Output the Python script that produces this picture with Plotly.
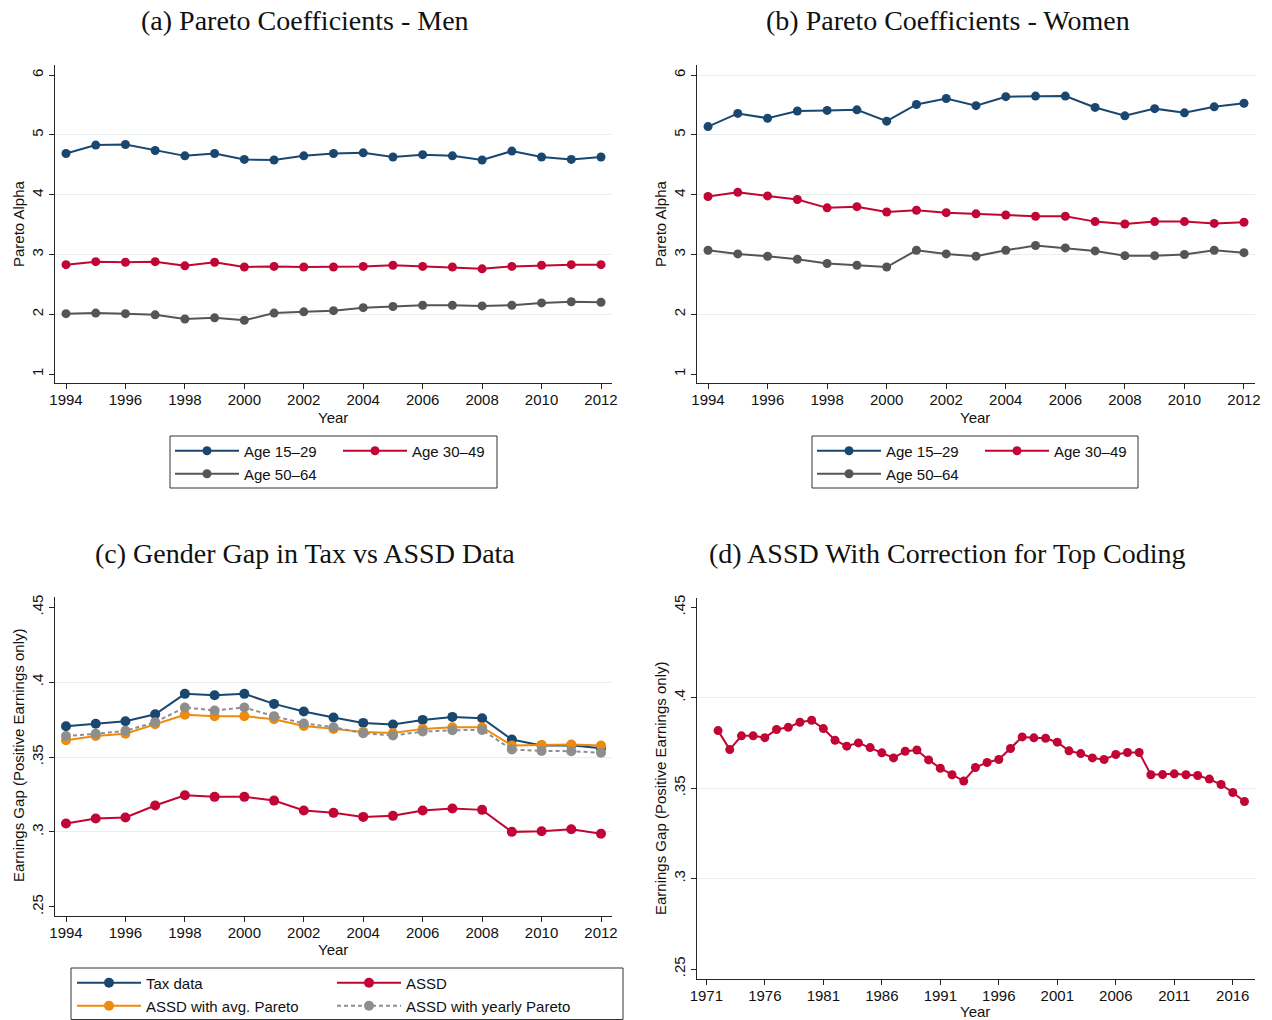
import plotly.graph_objects as go

# ---------------- data ----------------
years = list(range(1994, 2013))

men_15_29 = [4.69, 4.83, 4.84, 4.74, 4.65, 4.69, 4.59, 4.58, 4.65, 4.69,
             4.70, 4.63, 4.67, 4.65, 4.58, 4.73, 4.63, 4.59, 4.63]
men_30_49 = [2.83, 2.88, 2.87, 2.88, 2.81, 2.87, 2.79, 2.80, 2.79, 2.79,
             2.80, 2.82, 2.80, 2.79, 2.76, 2.80, 2.82, 2.83, 2.83]
men_50_64 = [2.01, 2.02, 2.01, 1.99, 1.92, 1.94, 1.90, 2.02, 2.04, 2.06,
             2.11, 2.13, 2.15, 2.15, 2.14, 2.15, 2.19, 2.21, 2.20]

women_15_29 = [5.14, 5.36, 5.28, 5.40, 5.41, 5.42, 5.23, 5.51, 5.61, 5.49,
               5.64, 5.65, 5.65, 5.46, 5.32, 5.44, 5.37, 5.47, 5.53]
women_30_49 = [3.97, 4.04, 3.98, 3.92, 3.78, 3.80, 3.71, 3.74, 3.70, 3.68,
               3.66, 3.64, 3.64, 3.55, 3.51, 3.55, 3.55, 3.52, 3.54]
women_50_64 = [3.07, 3.01, 2.97, 2.92, 2.85, 2.82, 2.79, 3.07, 3.01, 2.97,
               3.07, 3.15, 3.11, 3.06, 2.98, 2.98, 3.00, 3.07, 3.03]

gap_tax = [0.3706, 0.3722, 0.3739, 0.3786, 0.3922, 0.3913, 0.3922, 0.3855, 0.3804, 0.3764,
           0.3728, 0.3717, 0.3748, 0.3768, 0.3759, 0.3617, 0.3577, 0.3579, 0.3559]
gap_assd = [0.3056, 0.3089, 0.3096, 0.3176, 0.3245, 0.3234, 0.3234, 0.3209, 0.3143, 0.3127,
            0.3100, 0.3107, 0.3143, 0.3156, 0.3147, 0.3000, 0.3004, 0.3018, 0.2987]
gap_avg_pareto = [0.3612, 0.3641, 0.3655, 0.3719, 0.3782, 0.3773, 0.3773, 0.3753, 0.3708, 0.3688,
                  0.3668, 0.3661, 0.3688, 0.3699, 0.3699, 0.3577, 0.3581, 0.3584, 0.3577]
gap_yearly_pareto = [0.3641, 0.3655, 0.3675, 0.3733, 0.3831, 0.3811, 0.3831, 0.3773, 0.3724, 0.3699,
                     0.3659, 0.3644, 0.3670, 0.3679, 0.3681, 0.3550, 0.3541, 0.3539, 0.3528]

years_long = list(range(1972, 2018))
gap_corrected = [0.3818, 0.3713, 0.3789, 0.3789, 0.3779, 0.3824, 0.3836, 0.3864, 0.3875, 0.3829,
                 0.3765, 0.3732, 0.3750, 0.3724, 0.3695, 0.3667, 0.3704, 0.3711, 0.3656, 0.3610,
                 0.3574, 0.3539, 0.3614, 0.3642, 0.3658, 0.3719, 0.3783, 0.3778, 0.3776, 0.3754,
                 0.3706, 0.3691, 0.3667, 0.3658, 0.3686, 0.3697, 0.3697, 0.3574, 0.3575, 0.3579,
                 0.3574, 0.3570, 0.3550, 0.3520, 0.3476, 0.3426]

alpha_ticks = [1, 2, 3, 4, 5, 6]
gap_ticks = [0.25, 0.30, 0.35, 0.40, 0.45]
gap_tick_text = [".25", ".3", ".35", ".4", ".45"]
short_year_ticks = list(range(1994, 2013, 2))
long_year_ticks = list(range(1971, 2017, 5))

# ---------------- styling ----------------
W, H = 1272, 1020
NAVY = "#1a476f"
RED = "#c10534"
DGRAY = "#555555"
ORANGE = "#ec8b0e"
LGRAY = "#8e8e8e"
AXIS = "#262626"
GRID = "#e6eeee"
SANS = "Liberation Sans, Arial, sans-serif"
SERIF = "Liberation Serif, Times New Roman, serif"


def px_x(p):
    return p / W


def px_y(p):
    return 1 - p / H


fig = go.Figure()


def add_line(x, y, name, color, axis, legend, dash="solid", msize=9):
    fig.add_trace(go.Scatter(
        x=x, y=y, name=name, mode="lines+markers",
        line=dict(color=color, width=2, dash=dash),
        marker=dict(color=color, size=msize, symbol="circle"),
        xaxis="x" + axis, yaxis="y" + axis, legend=legend,
    ))


# (a) men
add_line(years, men_15_29, "Age 15–29", NAVY, "", "legend")
add_line(years, men_30_49, "Age 30–49", RED, "", "legend")
add_line(years, men_50_64, "Age 50–64", DGRAY, "", "legend2")
# (b) women
add_line(years, women_15_29, "Age 15–29", NAVY, "2", "legend3")
add_line(years, women_30_49, "Age 30–49", RED, "2", "legend3")
add_line(years, women_50_64, "Age 50–64", DGRAY, "2", "legend4")
# (c) tax vs ASSD
add_line(years, gap_tax, "Tax data", NAVY, "3", "legend5", msize=10)
add_line(years, gap_assd, "ASSD", RED, "3", "legend5", msize=10)
add_line(years, gap_avg_pareto, "ASSD with avg. Pareto", ORANGE, "3", "legend6", msize=10)
add_line(years, gap_yearly_pareto, "ASSD with yearly Pareto", LGRAY, "3", "legend6",
         dash="4px,3px", msize=10)
# (d) corrected ASSD
fig.add_trace(go.Scatter(
    x=years_long, y=gap_corrected, mode="lines+markers", showlegend=False,
    line=dict(color=RED, width=2), marker=dict(color=RED, size=9),
    xaxis="x4", yaxis="y4",
))

tick_font = dict(family=SANS, size=15, color="#111111")


def xaxis(domain, rng, ticks, anchor):
    return dict(domain=domain, range=rng, tickvals=ticks, anchor=anchor,
                automargin=False, ticklabelstandoff=-2,
                showline=True, linecolor=AXIS, linewidth=1,
                ticks="outside", ticklen=5, tickcolor=AXIS, tickwidth=1,
                showgrid=False, zeroline=False, tickfont=tick_font)


def yaxis(domain, rng, ticks, gridvals, anchor, ticktext=None):
    d = dict(domain=domain, range=rng, tickvals=ticks, anchor=anchor,
             automargin=False,
             showline=True, linecolor=AXIS, linewidth=1,
             ticks="outside", ticklen=5, tickcolor=AXIS, tickwidth=1,
             tickangle=-90, showgrid=False, zeroline=False, tickfont=tick_font,
             minor=dict(tickvals=gridvals, showgrid=True, gridcolor=GRID,
                        gridwidth=1, ticks=""))
    if ticktext is not None:
        d["ticktext"] = ticktext
    return d


dom_left = [px_x(55), px_x(612)]
dom_right = [px_x(697), px_x(1255)]
dom_top = [px_y(383), px_y(65)]
dom_c = [px_y(916), px_y(597)]
dom_d = [px_y(979), px_y(598)]

legend_common = dict(orientation="h", xanchor="left", yanchor="middle",
                     bgcolor="rgba(0,0,0,0)", borderwidth=0,
                     font=dict(family=SANS, size=15, color="#111111"),
                     itemwidth=64, entrywidthmode="pixels", traceorder="normal")


def legend_at(x, y, entrywidth):
    d = dict(legend_common)
    d.update(x=px_x(x), y=px_y(y), entrywidth=entrywidth)
    return d


annotations = []


def text(s, x, y, size=15, family=SANS, angle=0):
    annotations.append(dict(text=s, x=px_x(x), y=px_y(y), xref="paper", yref="paper",
                            showarrow=False, xanchor="center", yanchor="middle",
                            textangle=angle, font=dict(family=family, size=size,
                                                       color="#111111")))


text("(a) Pareto Coefficients - Men", 305, 20, 28, SERIF)
text("(b) Pareto Coefficients - Women", 948, 20, 28, SERIF)
text("(c) Gender Gap in Tax vs ASSD Data", 305, 553, 28, SERIF)
text("(d) ASSD With Correction for Top Coding", 948, 553, 28, SERIF)
text("Pareto Alpha", 18, 224, angle=-90)
text("Pareto Alpha", 660, 224, angle=-90)
text("Earnings Gap (Positive Earnings only)", 18, 756, angle=-90)
text("Earnings Gap (Positive Earnings only)", 660, 789, angle=-90)
text("Year", 333, 417)
text("Year", 975, 417)
text("Year", 333, 949)
text("Year", 975, 1011)

box = dict(type="rect", xref="paper", yref="paper", line=dict(color="#333333", width=1),
           fillcolor="rgba(0,0,0,0)")
shapes = [
    dict(box, x0=px_x(170), x1=px_x(497), y0=px_y(488), y1=px_y(436)),
    dict(box, x0=px_x(812), x1=px_x(1138), y0=px_y(488), y1=px_y(436)),
    dict(box, x0=px_x(71), x1=px_x(623), y0=px_y(1019.5), y1=px_y(968)),
]

fig.update_layout(
    width=W, height=H, autosize=False,
    margin=dict(l=0, r=0, t=0, b=0, autoexpand=False),
    paper_bgcolor="white", plot_bgcolor="white",
    xaxis=xaxis(dom_left, [1993.63, 2012.37], short_year_ticks, "y"),
    yaxis=yaxis(dom_top, [0.85, 6.17], alpha_ticks, [2, 3, 4, 5], "x"),
    xaxis2=xaxis(dom_right, [1993.63, 2012.37], short_year_ticks, "y2"),
    yaxis2=yaxis(dom_top, [0.85, 6.17], alpha_ticks, [2, 3, 4, 5, 6], "x2"),
    xaxis3=xaxis(dom_left, [1993.63, 2012.37], short_year_ticks, "y3"),
    yaxis3=yaxis(dom_c, [0.2438, 0.4569], gap_ticks, [0.30, 0.35, 0.40], "x3", gap_tick_text),
    xaxis4=xaxis(dom_right, [1970.2, 2017.9], long_year_ticks, "y4"),
    yaxis4=yaxis(dom_d, [0.2445, 0.4551], gap_ticks, [0.30, 0.35, 0.40], "x4", gap_tick_text),
    legend=legend_at(170, 451, 89),
    legend2=legend_at(170, 474, 89),
    legend3=legend_at(812, 451, 89),
    legend4=legend_at(812, 474, 89),
    legend5=legend_at(72, 983, 181),
    legend6=legend_at(72, 1006, 181),
    annotations=annotations,
    shapes=shapes,
)

fig.write_html("out.html")
